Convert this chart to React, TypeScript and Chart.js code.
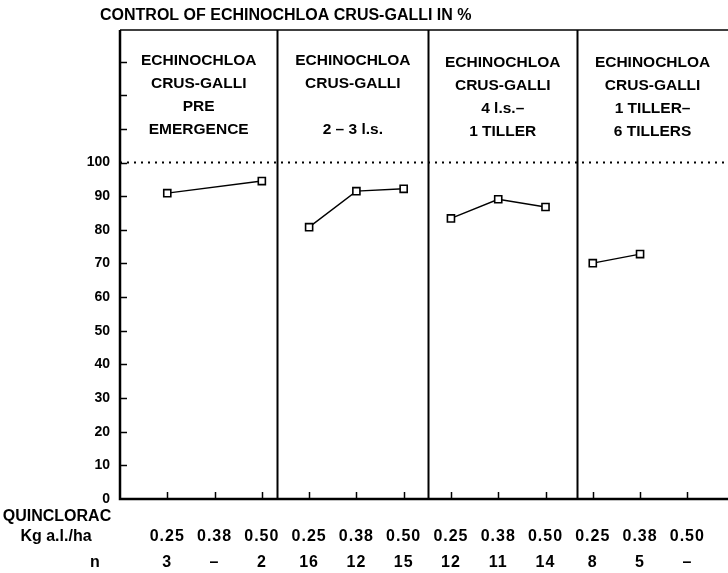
import React, { useEffect, useRef } from "react";
import { Chart, registerables } from "chart.js";

Chart.register(...registerables);

// Quinclorac control of Echinochloa crus-galli (%), by growth stage and dose
const title = "CONTROL OF ECHINOCHLOA CRUS-GALLI IN %";
const doses = ["0.25", "0.38", "0.50"];
const stageHeaders = [
  ["ECHINOCHLOA", "CRUS-GALLI", "PRE", "EMERGENCE"],
  ["ECHINOCHLOA", "CRUS-GALLI", "", "2 – 3 l.s."],
  ["ECHINOCHLOA", "CRUS-GALLI", "4 l.s.–", "1 TILLER"],
  ["ECHINOCHLOA", "CRUS-GALLI", "1 TILLER–", "6 TILLERS"],
];
const preEmergence = [90.9, null, 94.5];
const leafStage2to3 = [80.8, 91.5, 92.2];
const leafStage4to1Tiller = [83.4, 89.1, 86.8];
const tiller1to6 = [70.1, 72.8, null];
const sampleCounts = [
  ["3", "–", "2"],
  ["16", "12", "15"],
  ["12", "11", "14"],
  ["8", "5", "–"],
];
const yTickLabels = ["0", "10", "20", "30", "40", "50", "60", "70", "80", "90", "100"];
const fullControl = 100;

const stageSeries = [preEmergence, leafStage2to3, leafStage4to1Tiller, tiller1to6];

// x index of each dose slot: stage * 3 + dose
const X_MIN = -1;
const X_MAX = 11.86;
const Y_MAX = 139.4;
const panelEdges = [X_MIN, 2.33, 5.52, 8.67, X_MAX];

const FONT = '"Liberation Sans", Arial, sans-serif';

const framePlugin = {
  id: "frame",
  beforeDatasetsDraw(chart: any) {
    const { ctx, chartArea: a, scales } = chart;
    const x = scales.x;
    const y = scales.y;
    ctx.save();
    ctx.strokeStyle = "#000";
    ctx.lineCap = "butt";

    // axes and top rule
    ctx.lineWidth = 2.5;
    ctx.beginPath();
    ctx.moveTo(a.left, a.top);
    ctx.lineTo(a.left, a.bottom);
    ctx.lineTo(a.right, a.bottom);
    ctx.stroke();
    ctx.lineWidth = 1.5;
    ctx.beginPath();
    ctx.moveTo(a.left, a.top);
    ctx.lineTo(a.right, a.top);
    ctx.stroke();

    // stage separators
    ctx.lineWidth = 2;
    for (let i = 1; i < panelEdges.length - 1; i++) {
      const px = Math.round(x.getPixelForValue(panelEdges[i])) + 0.5;
      ctx.beginPath();
      ctx.moveTo(px, a.top);
      ctx.lineTo(px, a.bottom);
      ctx.stroke();
    }

    // inward y ticks
    ctx.lineWidth = 1.5;
    for (let v = 10; v < Y_MAX; v += 10) {
      const py = Math.round(y.getPixelForValue(v)) + 0.5;
      ctx.beginPath();
      ctx.moveTo(a.left, py);
      ctx.lineTo(a.left + 7, py);
      ctx.stroke();
    }

    // upward x ticks at each dose
    for (let s = 0; s < stageSeries.length; s++) {
      for (let d = 0; d < doses.length; d++) {
        const px = Math.round(x.getPixelForValue(s * 3 + d)) + 0.5;
        ctx.beginPath();
        ctx.moveTo(px, a.bottom);
        ctx.lineTo(px, a.bottom - 7);
        ctx.stroke();
      }
    }
    ctx.restore();
  },
  afterDraw(chart: any) {
    const { ctx, chartArea: a, scales } = chart;
    const x = scales.x;
    ctx.save();
    ctx.fillStyle = "#000";
    ctx.textBaseline = "middle";

    // title
    ctx.textAlign = "left";
    ctx.font = `bold 16px ${FONT}`;
    ctx.fillText(title, 100, 16);

    // stage headers
    ctx.textAlign = "center";
    ctx.font = `bold 15.5px ${FONT}`;
    stageHeaders.forEach((lines, s) => {
      const cx = (x.getPixelForValue(panelEdges[s]) + x.getPixelForValue(panelEdges[s + 1])) / 2;
      lines.forEach((line, k) => {
        if (line) ctx.fillText(line, cx, 61 + k * 23 + (s >= 2 ? 2 : 0));
      });
    });

    // dose row and sample counts
    const rowDose = a.bottom + 38;
    const rowN = a.bottom + 64;
    ctx.font = `bold 16px ${FONT}`;
    ctx.fillText("QUINCLORAC", 57, a.bottom + 18);
    ctx.fillText("Kg a.l./ha", 56, rowDose);
    ctx.fillText("n", 95, rowN);
    (ctx as any).letterSpacing = "1px";
    for (let s = 0; s < stageSeries.length; s++) {
      for (let d = 0; d < doses.length; d++) {
        const px = x.getPixelForValue(s * 3 + d);
        ctx.fillText(doses[d], px, rowDose);
        ctx.fillText(sampleCounts[s][d], px, rowN);
      }
    }
    ctx.restore();
  },
};

export default function App() {
  const canvasRef = useRef<HTMLCanvasElement | null>(null);

  useEffect(() => {
    if (!canvasRef.current) return;

    const datasets: any[] = stageSeries.map((values, s) => ({
      label: stageHeaders[s].filter(Boolean).join(" "),
      data: values
        .map((v, d) => (v == null ? null : { x: s * 3 + d, y: v }))
        .filter((p) => p !== null),
      showLine: true,
      borderColor: "#000",
      borderWidth: 1.4,
      pointStyle: "rect",
      pointRadius: 5,
      pointBorderWidth: 1.6,
      pointBorderColor: "#000",
      pointBackgroundColor: "#fff",
    }));

    datasets.push({
      label: "100 %",
      data: [
        { x: X_MIN, y: fullControl },
        { x: X_MAX, y: fullControl },
      ],
      showLine: true,
      borderColor: "#000",
      borderWidth: 2,
      borderDash: [2, 5],
      pointRadius: 0,
    });

    const chart = new Chart(canvasRef.current, {
      type: "scatter",
      data: { datasets },
      plugins: [framePlugin],
      options: {
        responsive: false,
        animation: false,
        layout: { autoPadding: false, padding: { top: 30, bottom: 74, left: 0, right: 0 } },
        plugins: {
          legend: { display: false },
          tooltip: { enabled: false },
        },
        scales: {
          x: {
            type: "linear",
            min: X_MIN,
            max: X_MAX,
            display: false,
          },
          y: {
            type: "linear",
            min: 0,
            max: Y_MAX,
            afterFit: (scale: any) => {
              scale.width = 120;
            },
            afterBuildTicks: (scale: any) => {
              scale.ticks = yTickLabels.map((t) => ({ value: Number(t) }));
            },
            grid: { display: false, drawTicks: false },
            border: { display: false },
            ticks: {
              padding: 10,
              color: "#000",
              font: { family: FONT, size: 14, weight: "bold" },
              callback: (v: any) => yTickLabels[yTickLabels.indexOf(String(v))] ?? "",
            },
          },
        },
      },
    });
    return () => chart.destroy();
  }, []);

  return (
    <div style={{ position: "fixed", left: 0, top: 0, width: 728, height: 573, background: "#fff" }}>
      <canvas ref={canvasRef} width={728} height={573} style={{ display: "block" }} />
    </div>
  );
}
